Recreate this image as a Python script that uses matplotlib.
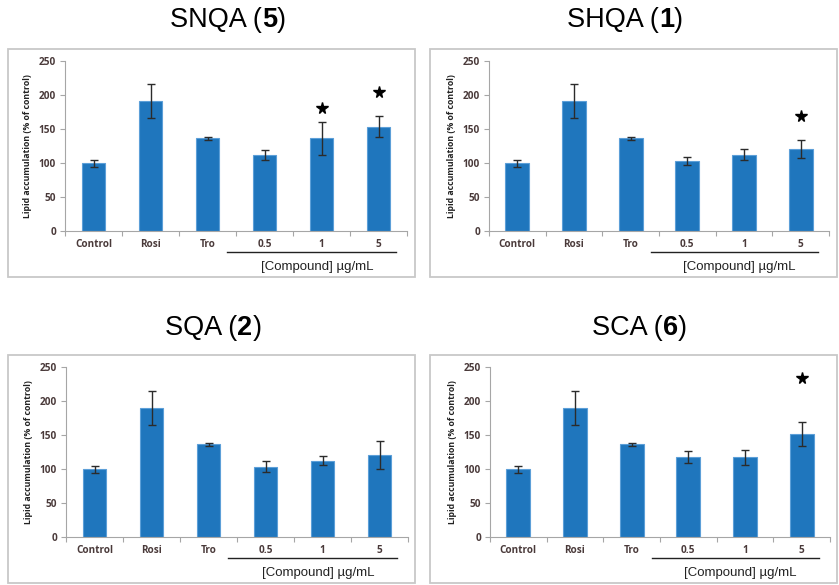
import numpy as np
import matplotlib.pyplot as plt
from matplotlib.patches import Rectangle

# treatment groups along the x axis
groups = ['Control', 'Rosi', 'Tro', '0.5', '1', '5']

# lipid accumulation (% of control), mean and error for each compound
snqa_mean = [99, 190, 136, 111, 136, 153]
snqa_err = [5, 25, 2, 7, 24, 15]
snqa_star = {4: 180, 5: 204}

shqa_mean = [99, 190, 136, 103, 112, 120]
shqa_err = [5, 25, 2, 6, 8, 13]
shqa_star = {5: 169}

sqa_mean = [99, 190, 136, 103, 112, 120]
sqa_err = [5, 25, 2, 8, 7, 21]
sqa_star = {}

sca_mean = [99, 190, 136, 117, 117, 151]
sca_err = [5, 25, 2, 9, 11, 18]
sca_star = {5: 234}

W, H = 839, 585
plt.rcParams['font.family'] = ['Liberation Sans', 'DejaVu Sans']
fig = plt.figure(figsize=(W / 100, H / 100), dpi=100)
renderer = fig.canvas.get_renderer()

bar_color = '#1f76bd'
edge_color = '#5c9fd8'
tick_color = '#4a3a3a'
axis_color = '#a6a6a6'


def px_axes(left, top0, right, bottom0):
    # left/right in px, top0 = pixel of y=250, bottom0 = pixel of y=0
    return fig.add_axes([left / W, 1 - bottom0 / H, (right - left) / W, (bottom0 - top0) / H])


def title_parts(x0, y, parts):
    # write the title piece by piece so the compound number can be bold
    x = x0
    for txt, weight in parts:
        t = fig.text(x / W, 1 - y / H, txt, ha='left', va='center', fontsize=19.5,
                     fontweight=weight)
        x += t.get_window_extent(renderer).width


def panel(box, axbox, title, title_num, title_xy, mean, err, stars):
    # light frame around each panel
    bx0, by0, bx1, by1 = box
    fig.patches.append(Rectangle((bx0 / W, 1 - by1 / H), (bx1 - bx0) / W, (by1 - by0) / H,
                                 transform=fig.transFigure, fill=False,
                                 edgecolor='#c8c8c8', linewidth=1.3))
    title_parts(title_xy[0], title_xy[1],
                [(title + ' (', 'normal'), (title_num, 'bold'), (')', 'normal')])

    ax = px_axes(*axbox)
    x = np.arange(len(groups))
    ax.bar(x, mean, width=0.42, color=bar_color, edgecolor=edge_color, linewidth=0.8, zorder=2)
    ax.errorbar(x, mean, yerr=err, fmt='none', ecolor='#2b2b2b', elinewidth=1.0,
                capsize=2.8, capthick=1.0, zorder=3)
    for i, h in stars.items():
        ax.plot(i, h, marker='*', color='black', markersize=8.5, zorder=4, clip_on=False)

    ax.set_xlim(-0.5, len(groups) - 0.5)
    ax.set_ylim(0, 250)
    ax.set_yticks(range(0, 251, 50))
    ax.set_xticks(x)
    ax.set_xticklabels(groups)
    ax.set_xticks(np.arange(-0.5, len(groups), 1.0), minor=True)
    ax.tick_params(axis='x', which='major', length=0, pad=6, labelsize=7.2, labelcolor=tick_color)
    ax.tick_params(axis='x', which='minor', length=3.5, color=axis_color, width=0.8)
    ax.tick_params(axis='y', length=3.5, color=axis_color, width=0.8, pad=3,
                   labelsize=7.2, labelcolor=tick_color)
    for lab in ax.get_xticklabels() + ax.get_yticklabels():
        lab.set_fontweight('bold')
        lab.set_family(['Open Sans', 'DejaVu Sans'])
    for s in ['top', 'right']:
        ax.spines[s].set_visible(False)
    for s in ['left', 'bottom']:
        ax.spines[s].set_color(axis_color)
        ax.spines[s].set_linewidth(0.8)
    ax.set_ylabel('Lipid accumulation (% of control)', fontsize=6.3, fontweight='bold',
                  color='#222222', labelpad=5, family=['Open Sans', 'DejaVu Sans'])

    # bracket under the compound doses
    ax.plot([2.35, 5.3], [-0.125, -0.125], transform=ax.get_xaxis_transform(),
            color='#222222', linewidth=1.0, clip_on=False)
    ax.text(3.92, -0.215, '[Compound] \u00b5g/mL', transform=ax.get_xaxis_transform(),
            ha='center', va='center', fontsize=9.5, color='#222222')
    return ax


panel((8, 49, 415, 277), (65, 60.7, 407, 230.7), 'SNQA', '5', (170, 20),
      snqa_mean, snqa_err, snqa_star)
panel((430, 49, 837, 277), (489, 60.7, 829, 230.7), 'SHQA', '1', (567, 20),
      shqa_mean, shqa_err, shqa_star)
panel((8, 355, 415, 583), (66, 366.7, 408, 536.7), 'SQA', '2', (165, 328),
      sqa_mean, sqa_err, sqa_star)
panel((430, 355, 837, 583), (490, 366.7, 830, 536.7), 'SCA', '6', (592, 328),
      sca_mean, sca_err, sca_star)

fig.savefig('out.png', dpi=100)
